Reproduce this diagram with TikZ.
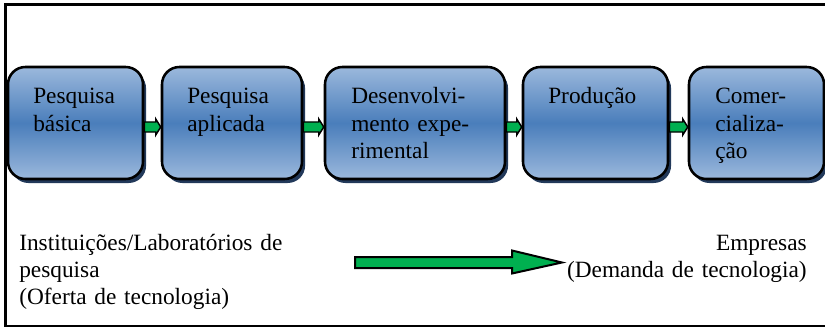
\documentclass[tikz,border=0pt]{standalone}
\usepackage{fontspec}
\setmainfont{Liberation Serif}
\usetikzlibrary{calc,shadows}
\definecolor{boxlight}{HTML}{9BB8DC}
\definecolor{boxdark}{HTML}{4A7EBB}
\definecolor{boxshadow}{HTML}{22395A}
\definecolor{arrowgreen}{HTML}{00B050}
\newcommand\stagearrow[2]{%
  \draw[garrow] ($(#1.east)+(0,-1)$) -- ($(#2.west)+(-5,-1)$) -- ($(#2.west)+(-5,-4)$)
    -- ($(#2.west)+(0,4)$) -- ($(#2.west)+(-5,12)$) -- ($(#2.west)+(-5,9)$)
    -- ($(#1.east)+(0,9)$) -- cycle;}
\begin{document}
\begin{tikzpicture}[x=0.75pt,y=-0.75pt,
  stage/.style={rectangle, rounded corners=13pt, draw=black, line width=1.9pt,
    top color=boxlight, bottom color=boxlight, middle color=boxdark,
    minimum height=112*0.75pt, inner sep=0pt,
    drop shadow={shadow xshift=2.3pt, shadow yshift=-3pt, fill=boxshadow, opacity=1}},
  stagetext/.style={anchor=base west, inner sep=0pt, text width=170*0.75pt, align=left,
    font=\fontsize{17.5}{20.8}\selectfont},
  sidetext/.style={inner sep=0pt, font=\fontsize{17.5}{20.25}\selectfont},
  garrow/.style={draw=black, fill=arrowgreen, line width=1.1pt, line join=miter}]
\useasboundingbox (0,0) rectangle (825,328);
% frame
\draw[line width=2.2pt] (826,4.5) -- (5.5,4.5) -- (5.5,326) -- (826,326);
% stages
\node[stage, minimum width=135*0.75pt] (b1) at (75.5,123) {};
\node[stage, minimum width=140*0.75pt] (b2) at (232,123) {};
\node[stage, minimum width=180*0.75pt] (b3) at (415,123) {};
\node[stage, minimum width=145*0.75pt] (b4) at (595.5,123) {};
\node[stage, minimum width=135*0.75pt] (b5) at (756.5,123) {};
% stage texts
\node[stagetext] (t1) at (33,103.5) {Pesquisa\\básica};
\node[stagetext] (t2) at (187,103.5) {Pesquisa\\aplicada};
\node[stagetext] (t3) at (351,103.5) {Desenvolvi-\\mento expe-\\rimental};
\node[stagetext] (t4) at (548,103.5) {Produção};
\node[stagetext] (t5) at (715,103.5) {Comer-\\cializa-\\ção};
% small arrows
\stagearrow{b1}{b2}
\stagearrow{b2}{b3}
\stagearrow{b3}{b4}
\stagearrow{b4}{b5}
% bottom texts
\node[sidetext, anchor=base west, text width=290*0.75pt, align=left] (lefttext) at (19,250)
  {Instituições/Laboratórios de\\pesquisa\\(Oferta de tecnologia)};
\node[sidetext, anchor=base east, text width=260*0.75pt, align=right] (righttext) at (807,250)
  {Empresas\\(Demanda de tecnologia)};
% big arrow
\coordinate (bigstart) at (355,262.5);
\coordinate (bigend) at (562,262.5);
\draw[garrow, line width=1.5pt] ($(bigstart)+(0,-5.5)$) -- ($(bigend)+(-50,-5.5)$) -- ($(bigend)+(-50,-12)$)
  -- (bigend) -- ($(bigend)+(-50,11)$) -- ($(bigend)+(-50,5.5)$) -- ($(bigstart)+(0,5.5)$) -- cycle;
\end{tikzpicture}
\end{document}
